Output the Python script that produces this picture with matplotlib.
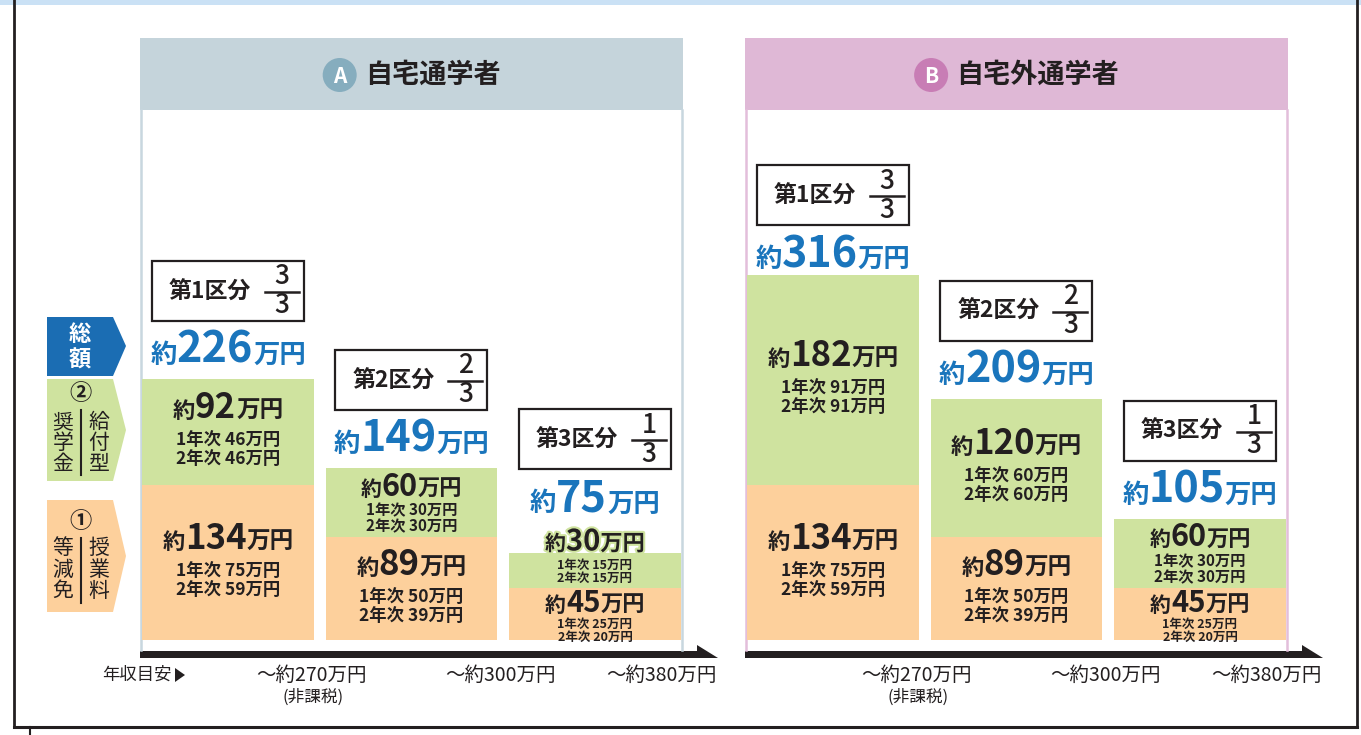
import matplotlib
matplotlib.use('Agg')
import matplotlib.pyplot as plt
from matplotlib.patches import Rectangle, Polygon, Circle
import matplotlib.patheffects as pe

plt.rcParams['font.family'] = ['Noto Sans CJK JP', 'DejaVu Sans']

# data
brackets = ['第1区分', '第2区分', '第3区分']
frac_num = ['3', '2', '1']
frac_den = ['3', '3', '3']
income = ['〜約270万円', '〜約300万円', '〜約380万円']
income_note = '(非課税)'

tuition = [134, 89, 45]
tuition_y1 = [75, 50, 25]
tuition_y2 = [59, 39, 20]

grant_home = [92, 60, 30]
grant_home_y1 = [46, 30, 15]
grant_home_y2 = [46, 30, 15]
total_home = [226, 149, 75]

grant_away = [182, 120, 60]
grant_away_y1 = [91, 60, 30]
grant_away_y2 = [91, 60, 30]
total_away = [316, 209, 105]

# colours
DARK = '#231f20'
GREEN = '#cfe39f'
ORANGE = '#fdd09c'
BLUE = '#1a75bc'
LEG_BLUE = '#1b6db3'
HEAD_A, CIRC_A, EDGE_A = '#c5d4db', '#86adbe', '#c8d7df'
HEAD_B, CIRC_B, EDGE_B = '#dfb8d6', '#c87db5', '#e3bedb'

W, H = 1361, 735
fig = plt.figure(figsize=(W / 100, H / 100), dpi=100)
renderer = fig.canvas.get_renderer()


def overlay(z):
    a = fig.add_axes([0, 0, 1, 1], zorder=z)
    a.set_xlim(0, W)
    a.set_ylim(H, 0)
    a.axis('off')
    a.patch.set_alpha(0)
    return a


bg = overlay(0)
fg = overlay(3)

k = 1.155          # px per 万円
base_px, top_px, bot_px = 640, 110, 655
BAR_W = 0.937


def panel_axes(left):
    ax = fig.add_axes([left / W, (H - bot_px) / H, 543 / W, (bot_px - top_px) / H], zorder=1)
    ax.set_xlim(-0.48, 2.48)
    ax.set_ylim(-(bot_px - base_px) / k, (base_px - top_px) / k)
    ax.axis('off')
    ax.patch.set_alpha(0)
    return ax


def to_ov(ax, x, y):
    dx, dy = ax.transData.transform((x, y))
    return dx, H - dy


class Rich:
    # a line made of pieces of different sizes sharing one baseline
    def __init__(self, cx, pieces, color=DARK, effects=None):
        self.objs, widths = [], []
        for s, pt in pieces:
            t = fg.text(0, 300, s, fontsize=pt, fontweight='bold', color=color,
                        va='baseline', ha='left', path_effects=effects)
            self.objs.append(t)
            widths.append(t.get_window_extent(renderer).width)
        x = cx - sum(widths) / 2
        top, bot = 1e9, -1e9
        for t, w in zip(self.objs, widths):
            t.set_x(x)
            x += w
            bb = t.get_window_extent(renderer)
            top = min(top, H - bb.y1)
            bot = max(bot, H - bb.y0)
        self.asc = 300 - top
        self.desc = bot - 300
        self.h = self.asc + self.desc

    def place_top(self, y):
        for t in self.objs:
            t.set_y(y + self.asc)

    def place_center(self, y):
        self.place_top(y - self.h / 2)


def stack(items, gaps, center):
    total = sum(it.h for it in items) + sum(gaps)
    y = center - total / 2
    for it, g in zip(items, gaps + [0]):
        it.place_top(y)
        y += it.h + g


def seg_labels(ax, i, bottom, value, y1, y2):
    cx, ytop = to_ov(ax, i, bottom + value)
    _, ybot = to_ov(ax, i, bottom)
    h = ybot - ytop
    c = (ytop + ybot) / 2
    if h >= 90:
        sizes, sub, gaps, shift = (16, 25, 17), 12.5, [6, 1], -3
    elif h >= 60:
        sizes, sub, gaps, shift = (15, 22, 16), 11, [0, 0], 0
    else:
        sizes, sub, gaps, shift = (15, 21, 16), 9, [0, 0], 2
    eff = [pe.withStroke(linewidth=3, foreground=GREEN)] if h < 40 else None
    main = Rich(cx, [('約', sizes[0]), (str(value), sizes[1]), ('万円', sizes[2])], effects=eff)
    s1 = Rich(cx, [('1年次 %d万円' % y1, sub)])
    s2 = Rich(cx, [('2年次 %d万円' % y2, sub)])
    if h < 40:
        # segment too thin: headline sits just above the bar
        main.place_top(ytop - main.h + 3)
        stack([s1, s2], [0], c + 1)
    else:
        stack([main, s1, s2], gaps, c + shift)
    return h


# frame and top strip
bg.add_patch(Rectangle((0, 0), W, 5, color='#cae1f5', lw=0))
bg.plot([14, 14], [0, 727], color=DARK, lw=2)
bg.plot([1357, 1357], [0, 727], color=DARK, lw=2)
bg.plot([14, 1357], [727, 727], color=DARK, lw=2.2)
bg.plot([30, 30], [727, 735], color=DARK, lw=1.5)

# legend arrows on the left
bg.add_patch(Polygon([(47, 317), (113, 317), (126, 346), (113, 376), (47, 376)], color=LEG_BLUE, lw=0))
bg.add_patch(Polygon([(47, 379), (113, 379), (126, 430), (113, 481), (47, 481)], color=GREEN, lw=0))
bg.add_patch(Polygon([(47, 500), (113, 500), (126, 556), (113, 612), (47, 612)], color=ORANGE, lw=0))
fg.text(80, 334, '総', color='white', fontsize=16, fontweight='bold', ha='center', va='center')
fg.text(80, 360, '額', color='white', fontsize=16, fontweight='bold', ha='center', va='center')
fg.text(81, 393, '②', color=DARK, fontsize=16, fontweight='bold', ha='center', va='center')
fg.text(81, 521, '①', color=DARK, fontsize=16, fontweight='bold', ha='center', va='center')
for j, (l, r) in enumerate(zip('奨学金', '給付型')):
    fg.text(63, 422 + 21 * j, l, color=DARK, fontsize=15, ha='center', va='center')
    fg.text(99, 422 + 21 * j, r, color=DARK, fontsize=15, ha='center', va='center')
for j, (l, r) in enumerate(zip('等減免', '授業料')):
    fg.text(63, 548 + 21.5 * j, l, color=DARK, fontsize=15, ha='center', va='center')
    fg.text(99, 548 + 21.5 * j, r, color=DARK, fontsize=15, ha='center', va='center')
bg.plot([81, 81], [410, 475], color=DARK, lw=1.5)
bg.plot([81, 81], [538, 603], color=DARK, lw=1.5)

fg.text(172, 675, '年収目安', color=DARK, fontsize=12.5, ha='right', va='center')
bg.add_patch(Polygon([(175, 668), (185, 675), (175, 682)], color=DARK, lw=0))

panels = [
    ('A', '自宅通学者', 140, HEAD_A, CIRC_A, EDGE_A, grant_home, grant_home_y1, grant_home_y2, total_home),
    ('B', '自宅外通学者', 745, HEAD_B, CIRC_B, EDGE_B, grant_away, grant_away_y1, grant_away_y2, total_away),
]

for letter, title, left, head, circ, edge, grant, gy1, gy2, total in panels:
    # header
    bg.add_patch(Rectangle((left, 38), 543, 72, color=head, lw=0))
    bg.plot([left + 1, left + 1], [110, 650], color=edge, lw=1.8)
    bg.plot([left + 542, left + 542], [110, 650], color=edge, lw=1.8)
    tt = fg.text(0, 75, title, fontsize=19.5, fontweight='bold', color=DARK, ha='left', va='center')
    tw = tt.get_window_extent(renderer).width
    x0 = left + 271.5 - (tw + 42) / 2
    fg.add_patch(Circle((x0 + 17, 75), 17, color=circ, lw=0))
    fg.text(x0 + 17, 76, letter, fontsize=15, fontweight='bold', color='white', ha='center', va='center')
    tt.set_x(x0 + 42)

    ax = panel_axes(left)
    xs = range(len(brackets))
    ax.bar(xs, tuition, width=BAR_W, color=ORANGE, lw=0)
    ax.bar(xs, grant, bottom=tuition, width=BAR_W, color=GREEN, lw=0)

    # bottom arrow
    bg.add_patch(Polygon([(left, 651), (left + 557, 651), (left + 557, 645),
                          (left + 578, 658), (left, 658)], color=DARK, lw=0))

    for i in xs:
        seg_labels(ax, i, 0, tuition[i], tuition_y1[i], tuition_y2[i])
        hg = seg_labels(ax, i, tuition[i], grant[i], gy1[i], gy2[i])
        cx, ytop = to_ov(ax, i, total[i])
        lift = 26 if hg < 40 else 0
        box_bot = ytop - 58 - lift
        if box_bot - 60 < 165:
            box_bot = 225
        blue = Rich(cx, [('約', 19), (str(total[i]), 31), ('万円', 19)], color=BLUE)
        blue.place_center(box_bot + 29)
        bcy = box_bot - 30
        fg.add_patch(Rectangle((cx - 76, box_bot - 60), 152, 60, facecolor='white',
                               edgecolor=DARK, lw=1.6))
        fg.text(cx - 18, bcy + 1, brackets[i], fontsize=16.5, fontweight='bold', color=DARK,
                ha='center', va='center')
        fg.text(cx + 54, bcy - 14, frac_num[i], fontsize=19, fontweight='medium', color=DARK,
                ha='center', va='center')
        fg.text(cx + 54, bcy + 15, frac_den[i], fontsize=19, fontweight='medium', color=DARK,
                ha='center', va='center')
        fg.plot([cx + 37, cx + 71], [bcy + 1, bcy + 1], color=DARK, lw=1.8)

        # income labels under the arrow
        ex, _ = to_ov(ax, i + BAR_W / 2, 0)
        lx = ex + [-3, 3, -20][i]
        fg.text(lx, 675, income[i], fontsize=14, color=DARK, ha='center', va='center')
        if i == 0:
            fg.text(lx + 2, 697, income_note, fontsize=12, color=DARK, ha='center', va='center')

fig.savefig('out.png', dpi=100)
